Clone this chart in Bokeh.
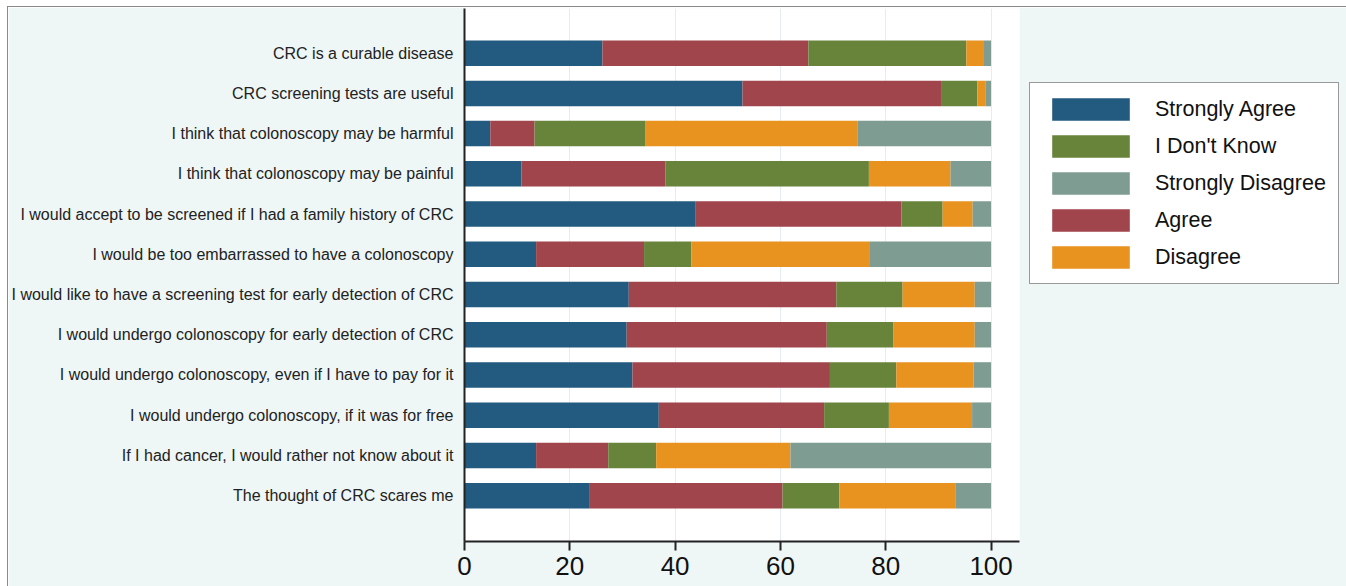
from bokeh.plotting import figure
from bokeh.models import ColumnDataSource, Range1d, FixedTicker, Legend, LegendItem
from bokeh.embed import file_html
from bokeh.resources import INLINE

statements = [
    "CRC is a curable disease",
    "CRC screening tests are useful",
    "I think that colonoscopy may be harmful",
    "I think that colonoscopy may be painful",
    "I would accept to be screened if I had a family history of CRC",
    "I would be too embarrassed to have a colonoscopy",
    "I would like to have a screening test for early detection of CRC",
    "I would undergo colonoscopy for early detection of CRC",
    "I would undergo colonoscopy, even if I have to pay for it",
    "I would undergo colonoscopy, if it was for free",
    "If I had cancer, I would rather not know about it",
    "The thought of CRC scares me",
]
strongly_agree    = [26.2, 52.8, 4.9, 10.8, 43.8, 13.6, 31.2, 30.8, 31.9, 36.9, 13.6, 23.8]
agree             = [39.1, 37.7, 8.4, 27.4, 39.2, 20.5, 39.4, 38.0, 37.5, 31.4, 13.7, 36.6]
dont_know         = [30.0, 6.9, 21.1, 38.6, 7.8, 9.0, 12.6, 12.6, 12.6, 12.3, 9.1, 10.8]
disagree          = [3.2, 1.6, 40.3, 15.5, 5.7, 33.9, 13.7, 15.5, 14.7, 15.8, 25.5, 22.0]
strongly_disagree = [1.5, 1.0, 25.3, 7.7, 3.5, 23.0, 3.1, 3.1, 3.3, 3.6, 38.1, 6.8]
x_ticks = [0, 20, 40, 60, 80, 100]

series_keys = ["sa", "a", "dk", "d", "sd"]
series_names = ["Strongly Agree", "Agree", "I Don't Know", "Disagree", "Strongly Disagree"]
colors = ["#235a80", "#a0454b", "#68843a", "#e8921f", "#7e9c92"]
legend_order = ["Strongly Agree", "I Don't Know", "Strongly Disagree", "Agree", "Disagree"]

n = len(statements)
ypos = [n - i for i in range(n)]
src = ColumnDataSource(dict(y=ypos, sa=strongly_agree, a=agree, dk=dont_know,
                            d=disagree, sd=strongly_disagree))

p = figure(frame_width=555, frame_height=533,
           x_range=Range1d(0, 105.4), y_range=Range1d(-0.14, 13.11),
           output_backend="svg", toolbar_location=None,
           min_border_left=455, min_border_right=324,
           min_border_top=1, min_border_bottom=45)
p.styles = {"margin-left": "7px", "margin-top": "6px",
            "border-left": "1px solid #8a8a8a", "border-top": "1px solid #8a8a8a",
            "border-right": "1px solid #8a8a8a"}

p.background_fill_color = "white"
p.border_fill_color = "#eef6f6"
p.outline_line_color = None

renderers = p.hbar_stack(series_keys, y="y", height=0.634, color=colors,
                         line_color=None, source=src)

# axes
p.xaxis.ticker = FixedTicker(ticks=x_ticks)
p.xaxis.axis_line_color = "#222222"
p.xaxis.axis_line_width = 2
p.xaxis.major_tick_line_color = "#222222"
p.xaxis.major_tick_line_width = 2
p.xaxis.major_tick_out = 9
p.xaxis.major_tick_in = 0
p.xaxis.minor_tick_line_color = None
p.xaxis.major_label_text_font = "Liberation Sans"
p.xaxis.major_label_text_font_size = "26px"
p.xaxis.major_label_text_color = "#111111"
p.xaxis.major_label_standoff = 6

p.yaxis.ticker = FixedTicker(ticks=ypos)
p.yaxis.major_label_overrides = {y: s for y, s in zip(ypos, statements)}
p.yaxis.axis_line_color = "#222222"
p.yaxis.axis_line_width = 2
p.yaxis.major_tick_line_color = None
p.yaxis.major_tick_out = 0
p.yaxis.major_tick_in = 0
p.yaxis.minor_tick_line_color = None
p.yaxis.minor_tick_out = 0
p.yaxis.minor_tick_in = 0
p.yaxis.major_label_text_font = "Liberation Sans"
p.yaxis.major_label_text_font_size = "16px"
p.yaxis.major_label_text_color = "#222222"
p.yaxis.major_label_standoff = 11

p.xgrid.ticker = FixedTicker(ticks=x_ticks)
p.xgrid.grid_line_color = "#e2eef2"
p.xgrid.grid_line_width = 1
p.ygrid.grid_line_color = None

rmap = dict(zip(series_names, renderers))
legend = Legend(items=[LegendItem(label=nm, renderers=[rmap[nm]]) for nm in legend_order],
                location=(10, 257))
legend.border_line_color = "#333333"
legend.border_line_width = 1.5
legend.background_fill_color = "white"
legend.background_fill_alpha = 1
legend.padding = 12
legend.spacing = 9
legend.margin = 0
legend.glyph_width = 97
legend.glyph_height = 28
legend.label_standoff = 16
legend.label_text_font = "Liberation Sans"
legend.label_text_font_size = "21.5px"
legend.label_text_color = "#111111"
legend.label_height = 28
p.add_layout(legend, "right")

open("out.html", "w").write(file_html(p, INLINE))
